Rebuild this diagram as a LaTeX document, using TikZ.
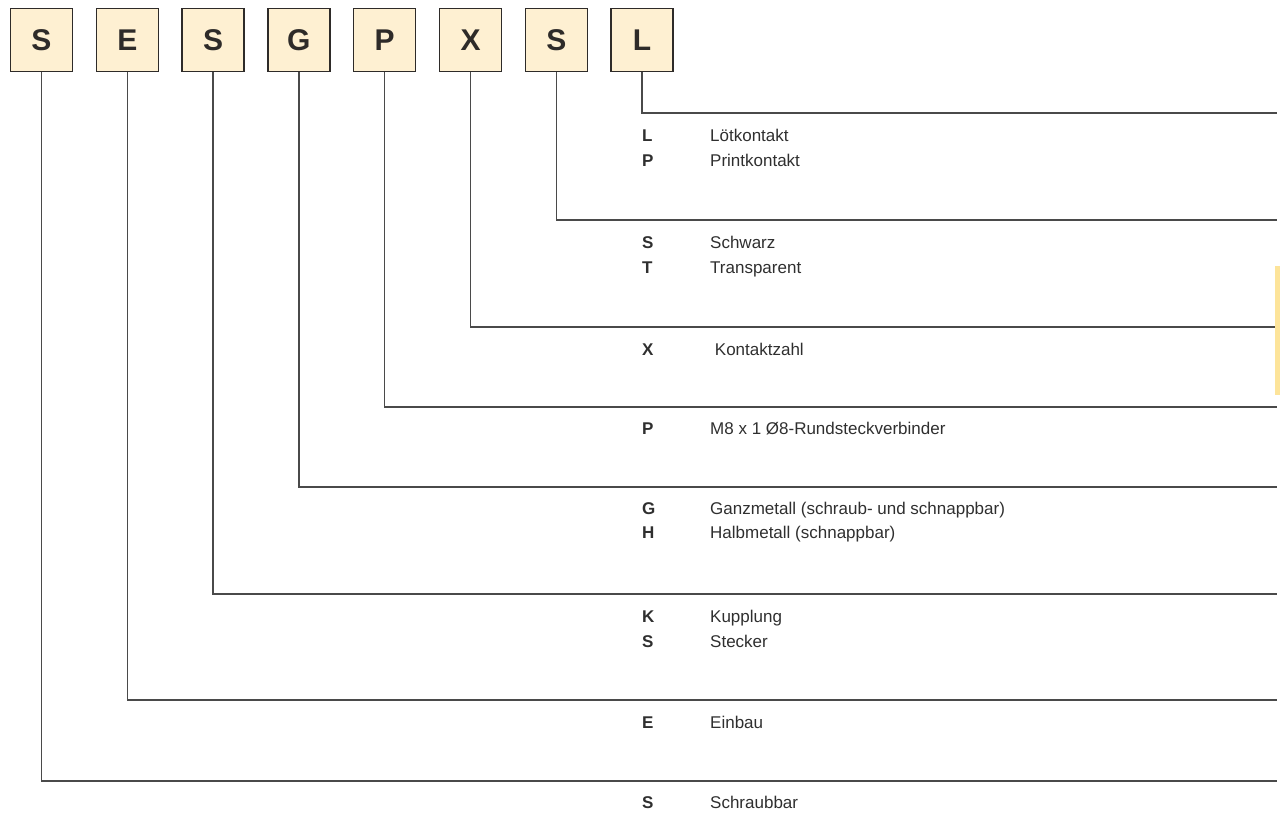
\documentclass[tikz,border=0pt]{standalone}
\usepackage{fontspec}
\setmainfont{Liberation Sans}
\definecolor{boxfill}{HTML}{FEF0D2}
\definecolor{boxline}{HTML}{2E2B29}
\definecolor{leadline}{HTML}{4A4A4A}
\definecolor{txt}{HTML}{2F2F2F}
\definecolor{stripyellow}{HTML}{FDE49A}
\tikzset{
  letterbox/.style={draw=boxline, fill=boxfill, line width=1.5pt, minimum width=62pt,
    minimum height=63pt, inner sep=0pt, text=boxline,
    font=\fontsize{30}{30}\selectfont\bfseries},
  lead/.style={draw=leadline, line width=1.3pt},
  keychar/.style={anchor=base west, inner sep=0pt, text=txt,
    font=\fontsize{17}{20}\selectfont\bfseries},
  keytext/.style={anchor=base west, inner sep=0pt, text=txt,
    font=\fontsize{17}{20}\selectfont}
}
\begin{document}
\begin{tikzpicture}[x=1pt,y=-1pt]
    \useasboundingbox (0,0) rectangle (1280,814);

    % Code letters
    \foreach \ch [count=\i] in {S,E,S,G,P,X,S,L} {
        \node[letterbox] (b\i) at ({41.5+85.8*(\i-1)},40) {\ch};
    }

    % Leader lines to the right edge
    \foreach \i/\y in {1/781,2/700,3/594,4/487,5/407,6/327,7/220,8/113} {
        \coordinate (e\i) at (1277,\y);
        \draw[lead] (b\i.south) |- (e\i);
    }

    % Key entries
    \foreach \y/\k/\t [count=\n] in {141/L/Lötkontakt, 166/P/Printkontakt,
        248/S/Schwarz, 273/T/Transparent,
        355/X/{\ Kontaktzahl},
        434/P/{M8 x 1 Ø8-Rundsteckverbinder},
        514/G/{Ganzmetall (schraub- und schnappbar)}, 538/H/{Halbmetall (schnappbar)},
        622/K/Kupplung, 647/S/Stecker,
        728/E/Einbau,
        808/S/Schraubbar} {
        \node[keychar] (k\n) at (642,\y) {\k};
        \node[keytext] (t\n) at (710,\y) {\t};
    }

    % Tab mark at the right edge
    \fill[stripyellow] (1275,266) rectangle (1280,395);
\end{tikzpicture}
\end{document}
